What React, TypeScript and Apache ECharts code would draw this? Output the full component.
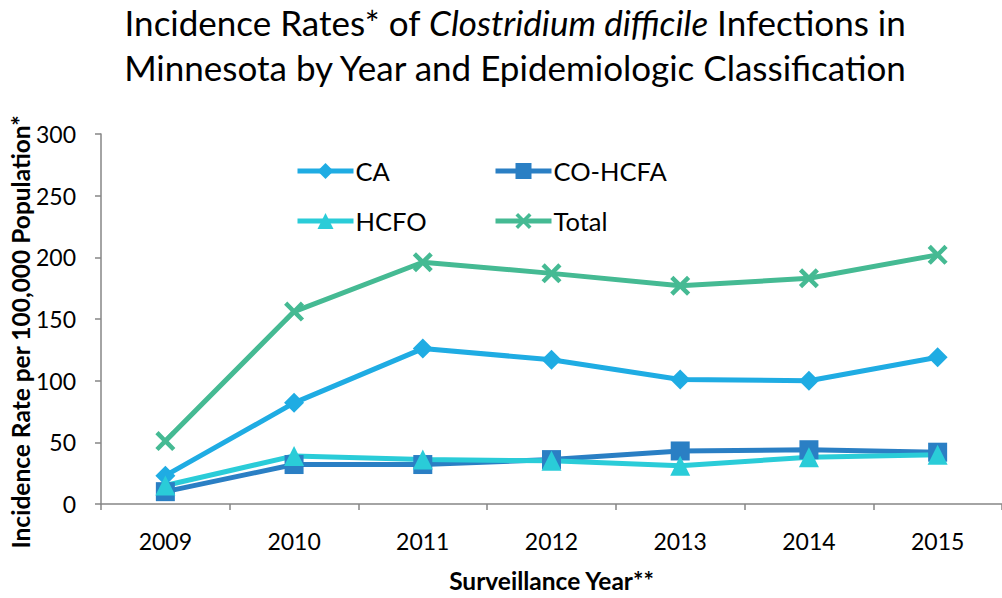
import React, { useEffect, useRef } from "react";
import * as echarts from "echarts";

const years = ["2009", "2010", "2011", "2012", "2013", "2014", "2015"];
const caValues = [23, 82, 126, 117, 101, 100, 119];
const coHcfaValues = [10, 32, 32, 36, 43, 44, 42];
const hcfoValues = [15, 39, 36, 35, 31, 38, 40];
const totalValues = [51, 156, 196, 187, 177, 183, 202];
const yTicks = { min: 0, max: 300, interval: 50 };
const yAxisTitle = "Incidence Rate per 100,000 Population*";

const FONT = "Lato";
const X_PATH =
  "path://M0,1.6 L1.6,0 L5,3.4 L8.4,0 L10,1.6 L6.6,5 L10,8.4 L8.4,10 L5,6.6 L1.6,10 L0,8.4 L3.4,5 Z";

export default function App() {
  const ref = useRef<HTMLDivElement>(null);
  useEffect(() => {
    if (!ref.current) return;
    const chart = echarts.init(ref.current, undefined, { renderer: "svg" });
    const mk = (name: string, data: number[], color: string, symbol: string, size: number) => ({
      name,
      type: "line",
      data,
      symbol,
      symbolSize: size,
      lineStyle: { width: 5, color },
      itemStyle: { color },
      emphasis: { disabled: true },
    });
    const legendBase = {
      orient: "horizontal",
      itemWidth: 56,
      itemHeight: 20,
      itemGap: 4,
      padding: 5,
      lineStyle: { width: 5 },
      textStyle: { fontFamily: FONT, fontSize: 25.5, color: "#000", padding: [0, 0, 0, -3] },
      selectedMode: false,
    };
    chart.setOption({
      animation: false,
      title: {
        text:
          "Incidence Rates* of {i|Clostridium difficile} Infections in\nMinnesota by Year and Epidemiologic Classification",
        left: 515,
        textAlign: "center",
        top: -1,
        padding: 0,
        textStyle: {
          fontFamily: FONT,
          fontSize: 35,
          fontWeight: "normal",
          color: "#000",
          lineHeight: 45,
          rich: {
            i: { fontStyle: "italic", fontFamily: FONT, fontSize: 35, lineHeight: 45, color: "#000" },
          },
        },
      },
      legend: [
        { ...legendBase, data: ["CA"], left: 290, top: 153 },
        { ...legendBase, data: ["CO-HCFA"], left: 488, top: 153 },
        { ...legendBase, data: ["HCFO"], left: 290, top: 203 },
        { ...legendBase, data: ["Total"], left: 488, top: 203 },
      ],
      graphic: [
        {
          type: "text",
          x: 20,
          y: 332,
          rotation: Math.PI / 2,
          style: {
            text: yAxisTitle,
            fontFamily: FONT,
            fontSize: 24.5,
            fontWeight: "bold",
            fill: "#000",
            align: "center",
            verticalAlign: "middle",
          },
        },
      ],
      grid: { left: 101, right: 0, top: 134, bottom: 88, containLabel: false },
      xAxis: {
        type: "category",
        data: years,
        boundaryGap: true,
        name: "Surveillance Year**",
        nameLocation: "middle",
        nameGap: 64,
        nameTextStyle: { fontFamily: FONT, fontSize: 24.5, fontWeight: "bold", color: "#000" },
        axisLine: { lineStyle: { color: "#868686", width: 1.5 } },
        axisTick: { show: true, alignWithLabel: false, length: 6, lineStyle: { color: "#868686", width: 1.5 } },
        axisLabel: { fontFamily: FONT, fontSize: 23, color: "#000", margin: 25 },
      },
      yAxis: {
        type: "value",
        min: yTicks.min,
        max: yTicks.max,
        interval: yTicks.interval,
        splitLine: { show: false },
        axisLine: { show: true, lineStyle: { color: "#868686", width: 1.5 } },
        axisTick: { show: true, length: 6, lineStyle: { color: "#868686", width: 1.5 } },
        axisLabel: { fontFamily: FONT, fontSize: 23, color: "#000", margin: 25 },
      },
      series: [
        mk("CA", caValues, "#1FACE3", "diamond", 20),
        mk("CO-HCFA", coHcfaValues, "#2A7FC4", "rect", 19),
        mk("HCFO", hcfoValues, "#2ACCD8", "triangle", 20),
        mk("Total", totalValues, "#45BA93", X_PATH, 20),
      ],
    });
    return () => chart.dispose();
  }, []);
  return (
    <div
      ref={ref}
      style={{ position: "absolute", left: 0, top: 0, width: 1002, height: 598, background: "#fff" }}
    />
  );
}
